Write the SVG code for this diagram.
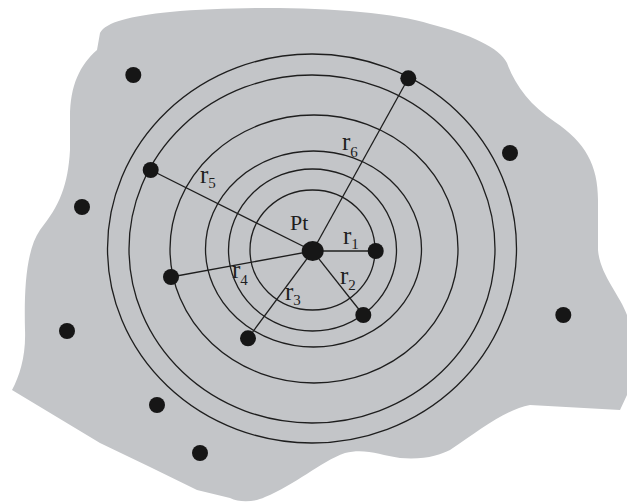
<svg xmlns="http://www.w3.org/2000/svg" width="627" height="502" viewBox="0 0 627 502">
<style>
.ring{fill:none;stroke:#1e1e1e;stroke-width:1.3}
.conn{stroke:#1e1e1e;stroke-width:1.3}
.dot{fill:#161616}
.lbl{font-family:"Liberation Serif","Times New Roman",serif;fill:#1e1e1e}
.r{font-size:25px}
.s{font-size:15px}
</style>
<rect width="627" height="502" fill="#ffffff"/>
<path id="region" fill="#c3c5c8" d="M100,33 C106,22 130,16 170,12 C260,4 380,8 430,24 C470,34 500,48 507,63 C515,85 530,105 555,122 C585,142 598,165 598,200 L598,250 C600,275 620,295 627,315 L627,395 L620,410 L530,405 C505,410 480,430 450,450 C440,455 425,460 400,458 C380,455 365,448 345,453 C320,462 295,485 265,497 C255,502 240,503 230,498 L197,490 L150,467 L100,443 L12,390 C20,375 26,355 25,330 C24,290 26,250 40,230 C60,205 68,185 70,150 L70,117 C70,85 80,65 97,50 Z"/>
<g id="rings">
<ellipse class="ring" cx="312.5" cy="250" rx="62.5" ry="60"/>
<ellipse class="ring" cx="312.5" cy="250" rx="84" ry="81"/>
<ellipse class="ring" cx="313.5" cy="249" rx="108" ry="98"/>
<ellipse class="ring" cx="314" cy="249" rx="144" ry="134"/>
<ellipse class="ring" cx="312" cy="249" rx="183" ry="174"/>
<ellipse class="ring" cx="312" cy="248.5" rx="204.5" ry="194.5"/>
</g>
<g id="connectors">
<line class="conn" x1="312.7" y1="251" x2="375.7" y2="251"/>
<line class="conn" x1="312.7" y1="251" x2="363.3" y2="315"/>
<line class="conn" x1="312.7" y1="251" x2="248" y2="338.3"/>
<line class="conn" x1="312.7" y1="251" x2="171" y2="277"/>
<line class="conn" x1="312.7" y1="251" x2="150.7" y2="170"/>
<line class="conn" x1="312.7" y1="251" x2="408.3" y2="78.3"/>
</g>
<g id="Pt"><ellipse class="dot" cx="312.7" cy="251" rx="11" ry="10"/><text class="lbl" x="290" y="230" font-size="22">Pt</text></g>
<g id="p1"><circle class="dot" cx="375.7" cy="251" r="8"/></g>
<g id="p2"><circle class="dot" cx="363.3" cy="315" r="8"/></g>
<g id="p3"><circle class="dot" cx="248" cy="338.3" r="8"/></g>
<g id="p4"><circle class="dot" cx="171" cy="277" r="8"/></g>
<g id="p5"><circle class="dot" cx="150.7" cy="170" r="8"/></g>
<g id="p6"><circle class="dot" cx="408.3" cy="78.3" r="8"/></g>
<g id="q1"><circle class="dot" cx="133.3" cy="75" r="8"/></g>
<g id="q2"><circle class="dot" cx="510" cy="153" r="8"/></g>
<g id="q3"><circle class="dot" cx="82" cy="207" r="8"/></g>
<g id="q4"><circle class="dot" cx="67" cy="331" r="8"/></g>
<g id="q5"><circle class="dot" cx="563.3" cy="315" r="8"/></g>
<g id="q6"><circle class="dot" cx="157" cy="405" r="8"/></g>
<g id="q7"><circle class="dot" cx="200" cy="453" r="8"/></g>
<g id="labels">
<text class="lbl" x="343" y="244"><tspan class="r">r</tspan><tspan class="s" dy="5">1</tspan></text>
<text class="lbl" x="340" y="284"><tspan class="r">r</tspan><tspan class="s" dy="6">2</tspan></text>
<text class="lbl" x="285" y="300"><tspan class="r">r</tspan><tspan class="s" dy="5">3</tspan></text>
<text class="lbl" x="232" y="278"><tspan class="r">r</tspan><tspan class="s" dy="7">4</tspan></text>
<text class="lbl" x="200" y="183"><tspan class="r">r</tspan><tspan class="s" dy="5">5</tspan></text>
<text class="lbl" x="342" y="150"><tspan class="r">r</tspan><tspan class="s" dy="7">6</tspan></text>
</g>
</svg>
